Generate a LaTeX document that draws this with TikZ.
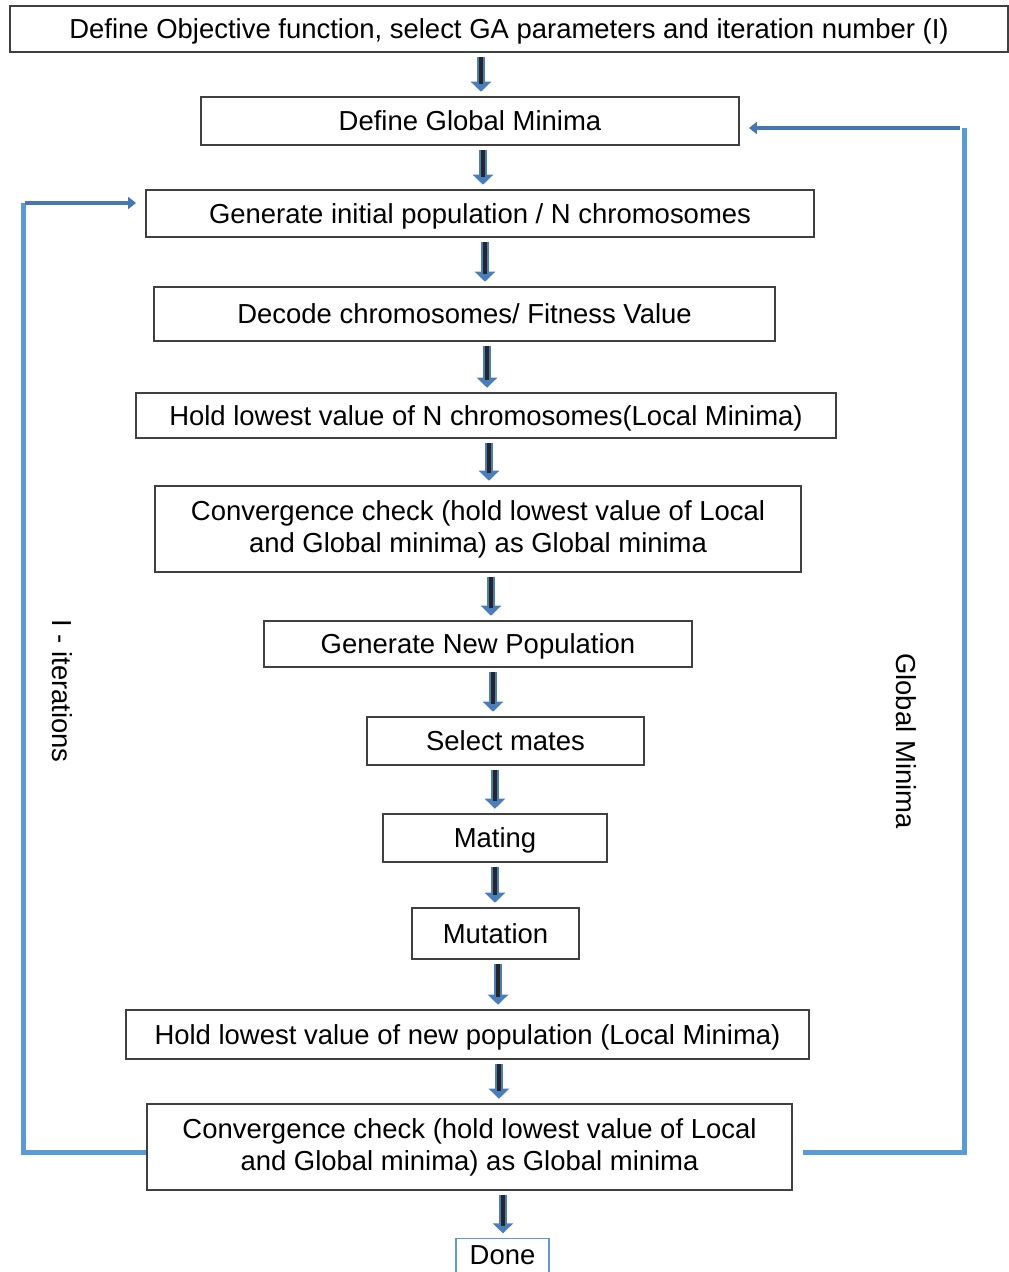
\documentclass[tikz,border=0pt]{standalone}
\usepackage{fontspec}
\setmainfont{Liberation Sans}
\usetikzlibrary{arrows.meta}
\definecolor{boxline}{HTML}{404040}
\definecolor{fbblue}{HTML}{5B9BD5}
\definecolor{arrblue}{HTML}{4A7EBB}
\definecolor{harrblue}{HTML}{4677B0}
\tikzset{
  flowbox/.style={draw=boxline, line width=0.9pt, rectangle, inner sep=0pt, align=center,
    font=\fontsize{20.6}{24}\selectfont},
  oneline/.style={text height=14.75pt, text depth=0pt},
  varrow/.style={line width=6pt, draw=arrblue, -{Triangle[length=7.5pt,width=15pt]},
    shorten <=3pt, shorten >=3.5pt},
  vcore/.style={line width=2.6pt, draw=black!85, shorten <=3pt, shorten >=9pt},
  fbline/.style={line width=3.75pt, draw=fbblue},
  harrow/.style={line width=3pt, draw=harrblue, -{Triangle[length=6pt,width=9pt]}},
  sidelabel/.style={font=\fontsize{20.6}{24}\selectfont, rotate=-90, inner sep=0pt}
}
\newcommand\blockarrow[3]{%
  \path ([xshift=#3]#1.south) coordinate (tmpA);
  \draw[varrow] (tmpA) -- (tmpA |- #2.north);
  \draw[vcore] (tmpA) -- (tmpA |- #2.north);
}
\begin{document}
\begin{tikzpicture}[x=0.75pt,y=-0.75pt]
\useasboundingbox (0,0) rectangle (1009,1272);
\clip (0,0) rectangle (1009,1272);

\node[flowbox, oneline, minimum width=998*0.75pt, minimum height=46*0.75pt] (top) at (509,29)
  {Define Objective function, select GA parameters and iteration number (I)};
\node[flowbox, oneline, minimum width=538*0.75pt, minimum height=48*0.75pt] (gm) at (470,121)
  {Define Global Minima};
\node[flowbox, oneline, minimum width=668*0.75pt, minimum height=47*0.75pt] (gen) at (480,213.5)
  {Generate initial population / N chromosomes};
\node[flowbox, oneline, minimum width=621*0.75pt, minimum height=54*0.75pt] (dec) at (464.5,314)
  {Decode chromosomes/ Fitness Value};
\node[flowbox, oneline, minimum width=700*0.75pt, minimum height=45*0.75pt] (hold) at (486,415.5)
  {Hold lowest value of N chromosomes(Local Minima)};
\node[flowbox, minimum width=646*0.75pt, minimum height=86*0.75pt] (conva) at (478,529)
  {Convergence check (hold lowest value of Local\\and Global minima) as Global minima};
\node[flowbox, oneline, minimum width=428*0.75pt, minimum height=46*0.75pt] (newpop) at (478,644)
  {Generate New Population};
\node[flowbox, oneline, minimum width=277*0.75pt, minimum height=48*0.75pt] (sel) at (505.5,741)
  {Select mates};
\node[flowbox, oneline, minimum width=224*0.75pt, minimum height=48*0.75pt] (mat) at (495,838)
  {Mating};
\node[flowbox, oneline, minimum width=167*0.75pt, minimum height=51*0.75pt] (mut) at (495.5,933.5)
  {Mutation};
\node[flowbox, oneline, minimum width=683*0.75pt, minimum height=49*0.75pt] (holdb) at (467.5,1034.5)
  {Hold lowest value of new population (Local Minima)};
\node[flowbox, minimum width=645*0.75pt, minimum height=86*0.75pt] (convb) at (469.5,1147)
  {Convergence check (hold lowest value of Local\\and Global minima) as Global minima};
\node[flowbox, draw=fbblue, anchor=north, minimum width=93*0.75pt, text height=19.5pt, text depth=12pt]
  (done) at (502.5,1238) {Done};

\blockarrow{top}{gm}{-21pt}
\blockarrow{gm}{gen}{9.75pt}
\blockarrow{gen}{dec}{3.75pt}
\blockarrow{dec}{hold}{16.9pt}
\blockarrow{hold}{conva}{2.25pt}
\blockarrow{conva}{newpop}{9.75pt}
\blockarrow{newpop}{sel}{11.25pt}
\blockarrow{sel}{mat}{-7.9pt}
\blockarrow{mat}{mut}{0pt}
\blockarrow{mut}{holdb}{1.9pt}
\blockarrow{holdb}{convb}{23.6pt}
\blockarrow{convb}{done}{25.1pt}

% left feedback loop
\coordinate (fbL) at (23,203);
\draw[fbline] ([yshift=-4pt]convb.west) -| (fbL);
\draw[harrow, shorten >=7pt] ([xshift=1.5pt]fbL) -- (fbL -| gen.west);
% right feedback loop
\coordinate (fbR) at (964,128);
\draw[fbline] ([xshift=7.5pt,yshift=-4pt]convb.east) -| (fbR);
\draw[harrow, shorten >=7pt] ([xshift=-3pt]fbR) -- (fbR -| gm.east);

\node[sidelabel] (lblL) at (62,691) {I - iterations};
\node[sidelabel] (lblR) at (906,741) {Global Minima};
\end{tikzpicture}
\end{document}
